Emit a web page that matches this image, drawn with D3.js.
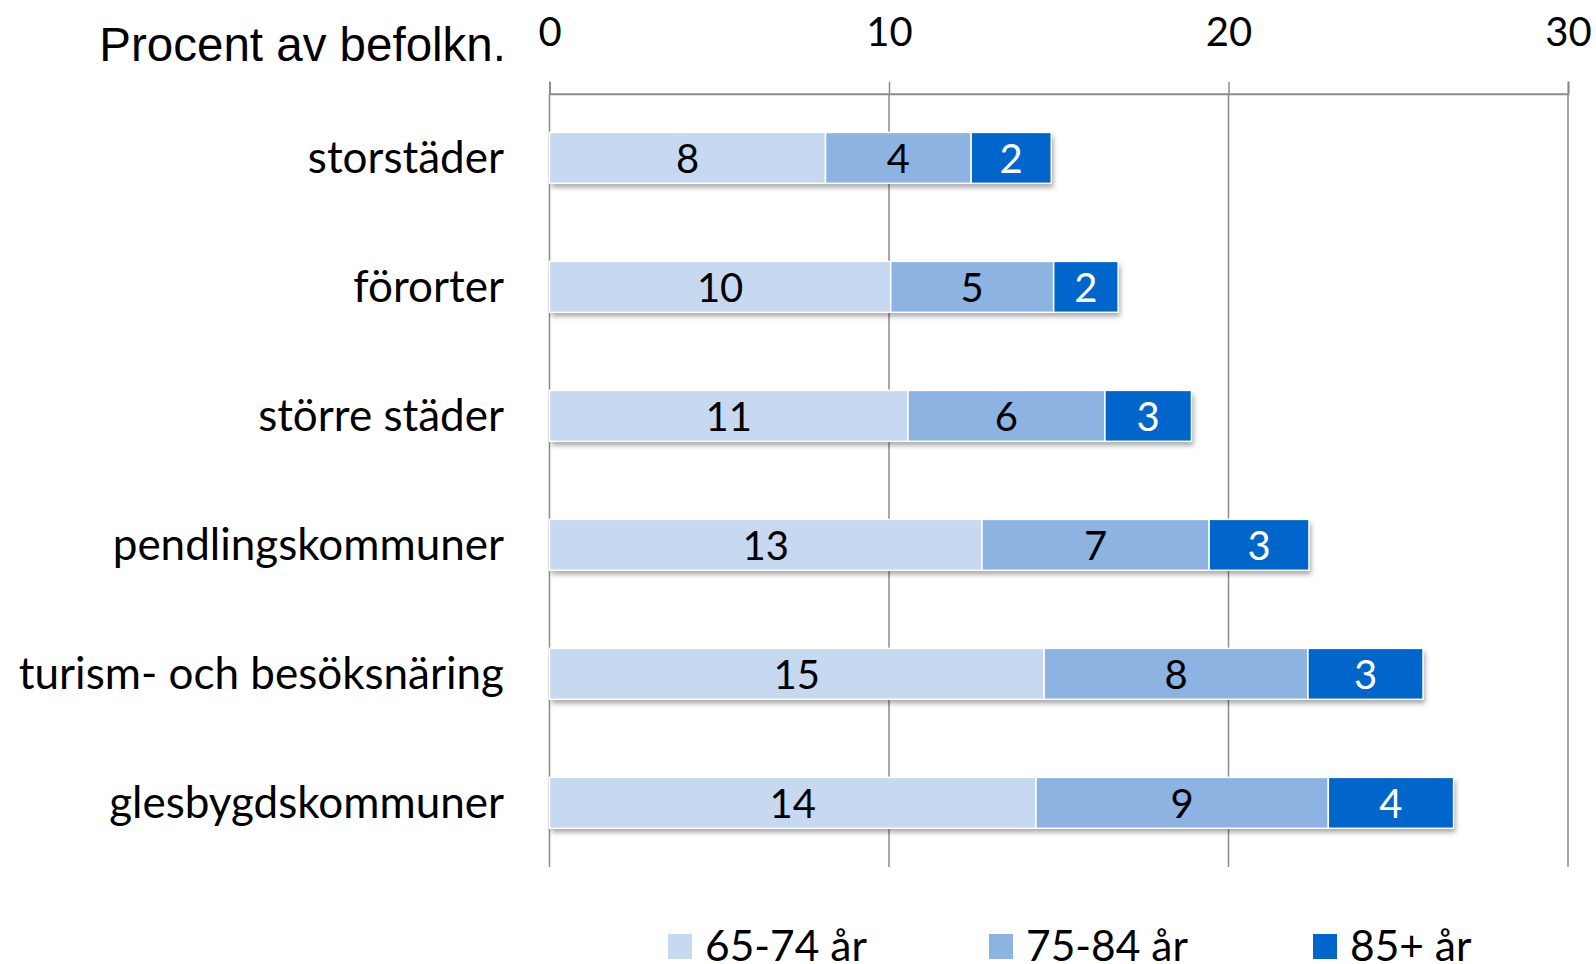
<!DOCTYPE html>
<html lang="sv">
<head>
	<meta charset="utf-8">
	<title>Procent av befolkn.</title>
	<script src="https://d3js.org/d3.v7.min.js"></script>
	<style type="text/css">
		body { margin: 0; background: #fff; }
		.lbl { font-family: Lato, "Open Sans", sans-serif; }
	</style>
</head>
<body>
	<script type="text/javascript">
	// data
	var categories = ["storstäder", "förorter", "större städer", "pendlingskommuner", "turism- och besöksnäring", "glesbygdskommuner"]
	var series = ["65-74 år", "75-84 år", "85+ år"]
	var age6574 = [8.13, 10.05, 10.56, 12.74, 14.57, 14.33]
	var age7584 = [4.29, 4.80, 5.80, 6.69, 7.77, 8.61]
	var age85 = [2.36, 1.90, 2.55, 2.94, 3.39, 3.69]
	var xTicks = [0, 10, 20, 30]

	var colors = ["#c6d9f0", "#8db3e2", "#0066cc"]
	var textColors = ["#000", "#000", "#fff"]

	// plot box (note: "top" is taken by window, so prefixed names)
	var w = 1596, h = 964
	var pLeft = 549.5, pRight = 1568, pTop = 93.7, pBottom = 867

	var svg = d3.select("body").append("svg")
		.attr("width", w)
		.attr("height", h)

	// shadow under the bars
	var defs = svg.append("defs")
	var f = defs.append("filter").attr("id", "shadow")
		.attr("x", "-5%").attr("y", "-20%").attr("width", "110%").attr("height", "160%")
	f.append("feDropShadow")
		.attr("dx", 2).attr("dy", 4).attr("stdDeviation", 2.5)
		.attr("flood-color", "#000").attr("flood-opacity", 0.35)

	var xScale = d3.scaleLinear().domain([0, 30]).range([pLeft, pRight])
	var yScale = d3.scaleBand().domain(categories).range([pTop, pBottom]).paddingInner(0.605).paddingOuter(0.3)

	// build stacked rows
	var rows = categories.map(function(c, i) {
		return { cat: c, vals: [age6574[i], age7584[i], age85[i]] }
	})
	var stack = d3.stack().keys([0, 1, 2]).value(function(d, k) { return d.vals[k] })
	var stacked = stack(rows)

	// grid + axis
	var xAxis = d3.axisTop(xScale).tickValues(xTicks).tickSize(12).tickPadding(36).tickFormat(d3.format("d"))
	var gx = svg.append("g")
		.attr("transform", "translate(0," + pTop + ")")
		.call(xAxis)
	gx.select(".domain").attr("stroke", "#8c8c8c").attr("stroke-width", 2)
	gx.selectAll(".tick line").attr("stroke", "#8c8c8c").attr("stroke-width", 1.5)
	gx.selectAll(".tick text")
		.attr("class", "lbl")
		.attr("font-size", 40)
		.attr("fill", "#000")

	svg.append("g").selectAll("line")
		.data(xTicks)
		.enter().append("line")
		.attr("x1", d => xScale(d)).attr("x2", d => xScale(d))
		.attr("y1", pTop).attr("y2", pBottom)
		.attr("stroke", "#8c8c8c")
		.attr("stroke-width", 1.5)

	// white blocks with shadow behind the stacks
	var shadowG = svg.append("g")
	shadowG.selectAll("rect")
		.data(rows)
		.enter().append("rect")
		.attr("x", xScale(0))
		.attr("y", d => yScale(d.cat))
		.attr("width", d => xScale(d3.sum(d.vals)) - xScale(0))
		.attr("height", yScale.bandwidth())
		.attr("fill", "#fff")
		.attr("filter", "url(#shadow)")

	// bars
	var segG = svg.append("g")
	stacked.forEach(function(layer, k) {
		segG.selectAll(".seg" + k)
			.data(layer)
			.enter().append("rect")
			.attr("class", "seg" + k)
			.attr("x", d => xScale(d[0]))
			.attr("y", d => yScale(d.data.cat))
			.attr("width", d => xScale(d[1]) - xScale(d[0]))
			.attr("height", yScale.bandwidth())
			.attr("fill", colors[k])
			.attr("stroke", "#fff")
			.attr("stroke-width", 1.5)

		segG.selectAll(".val" + k)
			.data(layer)
			.enter().append("text")
			.attr("class", "lbl")
			.attr("x", d => (xScale(d[0]) + xScale(d[1])) / 2)
			.attr("y", d => yScale(d.data.cat) + yScale.bandwidth() / 2 + 15)
			.attr("text-anchor", "middle")
			.attr("font-size", 40)
			.attr("fill", textColors[k])
			.text(d => Math.round(d[1] - d[0]))
	})

	// category labels
	svg.append("g").selectAll("text")
		.data(categories)
		.enter().append("text")
		.attr("class", "lbl")
		.attr("x", 504)
		.attr("y", d => yScale(d) + yScale.bandwidth() / 2 + 15)
		.attr("text-anchor", "end")
		.attr("font-size", 44)
		.text(d => d)

	// title
	svg.append("text")
		.attr("x", 506)
		.attr("y", 61)
		.attr("text-anchor", "end")
		.style("font-family", "'Liberation Sans', Arial, sans-serif")
		.style("font-size", "47.5px")
		.text("Procent av befolkn.")

	// legend
	var legX = [668, 989, 1313]
	var leg = svg.append("g").selectAll("g")
		.data(series)
		.enter().append("g")
		.attr("transform", (d, i) => "translate(" + legX[i] + ",934)")
	leg.append("rect")
		.attr("width", 24).attr("height", 25)
		.attr("fill", (d, i) => colors[i])
	leg.append("text")
		.attr("class", "lbl")
		.attr("x", 37)
		.attr("y", 27)
		.attr("font-size", 42.5)
		.text(d => d)
	</script>
</body>
</html>
